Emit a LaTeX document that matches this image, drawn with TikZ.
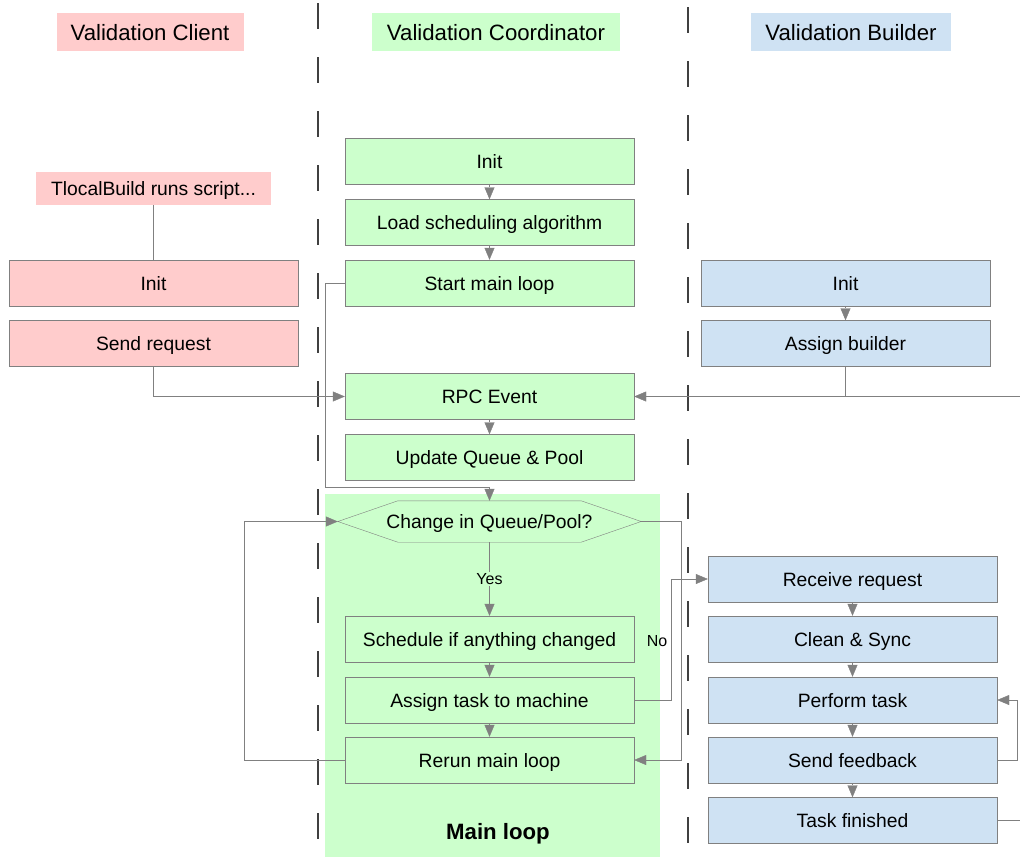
\documentclass[tikz,border=0pt]{standalone}
\usepackage{fontspec}
\setmainfont{Liberation Sans}
\usetikzlibrary{arrows.meta}

\definecolor{clientfill}{RGB}{255,204,204}
\definecolor{coordfill}{RGB}{204,255,204}
\definecolor{builderfill}{RGB}{207,226,243}
\definecolor{edgegray}{RGB}{128,128,128}

\tikzset{
  box/.style={draw=edgegray, minimum width=289pt, minimum height=46pt, inner sep=0pt,
    text height=14.8pt, text depth=0pt, font=\fontsize{19.3}{22}\selectfont},
  lanetitle/.style={inner sep=0pt, minimum height=38pt, text height=16.8pt, text depth=0pt,
    font=\fontsize{22.2}{26}\selectfont},
  flow/.style={draw=edgegray, -{Triangle[length=12pt,width=10pt]}},
  link/.style={draw=edgegray},
  lane/.style={draw=black!75, line width=1.3pt, dash pattern=on 26pt off 28pt},
  choice/.style={minimum width=303pt, minimum height=41pt, inner sep=0pt,
    text height=14.8pt, text depth=0pt, font=\fontsize{19.3}{22}\selectfont},
  branch/.style={inner sep=1pt, font=\fontsize{16}{19}\selectfont}
}

\begin{document}
\begin{tikzpicture}[x=1pt,y=-1pt]
\useasboundingbox (0,0) rectangle (1020,857);
\fill[coordfill] (325,494) rectangle (660,857);
\draw[lane, dash phase=-3pt] (318,0) -- (318,857);
\draw[lane, dash phase=-7pt] (688,0) -- (688,857);

\node[lanetitle, fill=clientfill, minimum width=187pt] (tclient) at (150,32) {Validation Client};
\node[lanetitle, fill=coordfill, minimum width=248pt] (tcoord) at (496,32) {Validation Coordinator};
\node[lanetitle, fill=builderfill, minimum width=200pt] (tbuilder) at (851,32) {Validation Builder};

\node[box, draw=none, fill=clientfill, minimum width=235pt, minimum height=33pt] (tlb) at (153.5,188.5) {TlocalBuild runs script...};
\node[box, fill=clientfill] (cinit) at (153.5,283) {Init};
\node[box, fill=clientfill] (sreq) at (153.5,343.5) {Send request};

\node[box, fill=coordfill] (kinit) at (489.5,161.5) {Init};
\node[box, fill=coordfill] (load) at (489.5,222.5) {Load scheduling algorithm};
\node[box, fill=coordfill] (start) at (489.5,283) {Start main loop};
\node[box, fill=coordfill] (rpc) at (489.5,396.5) {RPC Event};
\node[box, fill=coordfill] (upd) at (489.5,457.5) {Update Queue \& Pool};
\node[choice] (chg) at (489.5,521.5) {};
\draw[edgegray, fill=coordfill] (chg.west) -- ([xshift=60pt]chg.north west) -- ([xshift=-60pt]chg.north east)
  -- (chg.east) -- ([xshift=-60pt]chg.south east) -- ([xshift=60pt]chg.south west) -- cycle;
\node[choice] at (chg) {Change in Queue/Pool?};
\node[box, fill=coordfill] (sched) at (489.5,639) {Schedule if anything changed};
\node[box, fill=coordfill] (assign) at (489.5,700) {Assign task to machine};
\node[box, fill=coordfill] (rerun) at (489.5,760) {Rerun main loop};
\node[font=\bfseries\fontsize{22.2}{26}\selectfont] (mloop) at (498,833.5) {Main loop};

\node[box, fill=builderfill] (binit) at (845.5,283) {Init};
\node[box, fill=builderfill] (abld) at (845.5,343.5) {Assign builder};
\node[box, fill=builderfill] (recv) at (852.5,579) {Receive request};
\node[box, fill=builderfill] (clean) at (852.5,639) {Clean \& Sync};
\node[box, fill=builderfill] (perf) at (852.5,700) {Perform task};
\node[box, fill=builderfill] (feed) at (852.5,760) {Send feedback};
\node[box, fill=builderfill] (done) at (852.5,820.5) {Task finished};

\coordinate (bin) at (1020,396.5);
\coordinate (bout) at (1020,820.5);

\draw[link] (tlb) -- (cinit);
\draw[flow] (sreq) |- (rpc);
\draw[flow] (kinit) -- (load);
\draw[flow] (load) -- (start);
\draw[flow] (rpc) -- (upd);
\draw[flow] (binit) -- (abld);
\draw[flow] (bin) -- (rpc);
\draw[link] (abld) -- (abld |- rpc);
\draw[flow] (start.west) -- (325,283) -- (325,487) -- (489.5,487) -- (chg.north);
\draw[flow] (chg.south) -- node[branch, fill=coordfill] {Yes} (sched);
\draw[flow] (sched) -- (assign);
\draw[flow] (assign) -- (rerun);
\draw[flow] (rerun.west) -- (244,760) |- (chg.west);
\draw[flow] (chg.east) -- (681,521.5) |- (rerun.east);
\node[branch] (no) at (657,641) {No};
\draw[flow] (assign.east) -- (671,700) |- (recv.west);
\draw[flow] (recv) -- (clean);
\draw[flow] (clean) -- (perf);
\draw[flow] (perf) -- (feed);
\draw[flow] (feed) -- (done);
\draw[flow] (feed.east) -- (1017,760) |- (perf.east);
\draw[link] (done) -- (bout);
\end{tikzpicture}
\end{document}
